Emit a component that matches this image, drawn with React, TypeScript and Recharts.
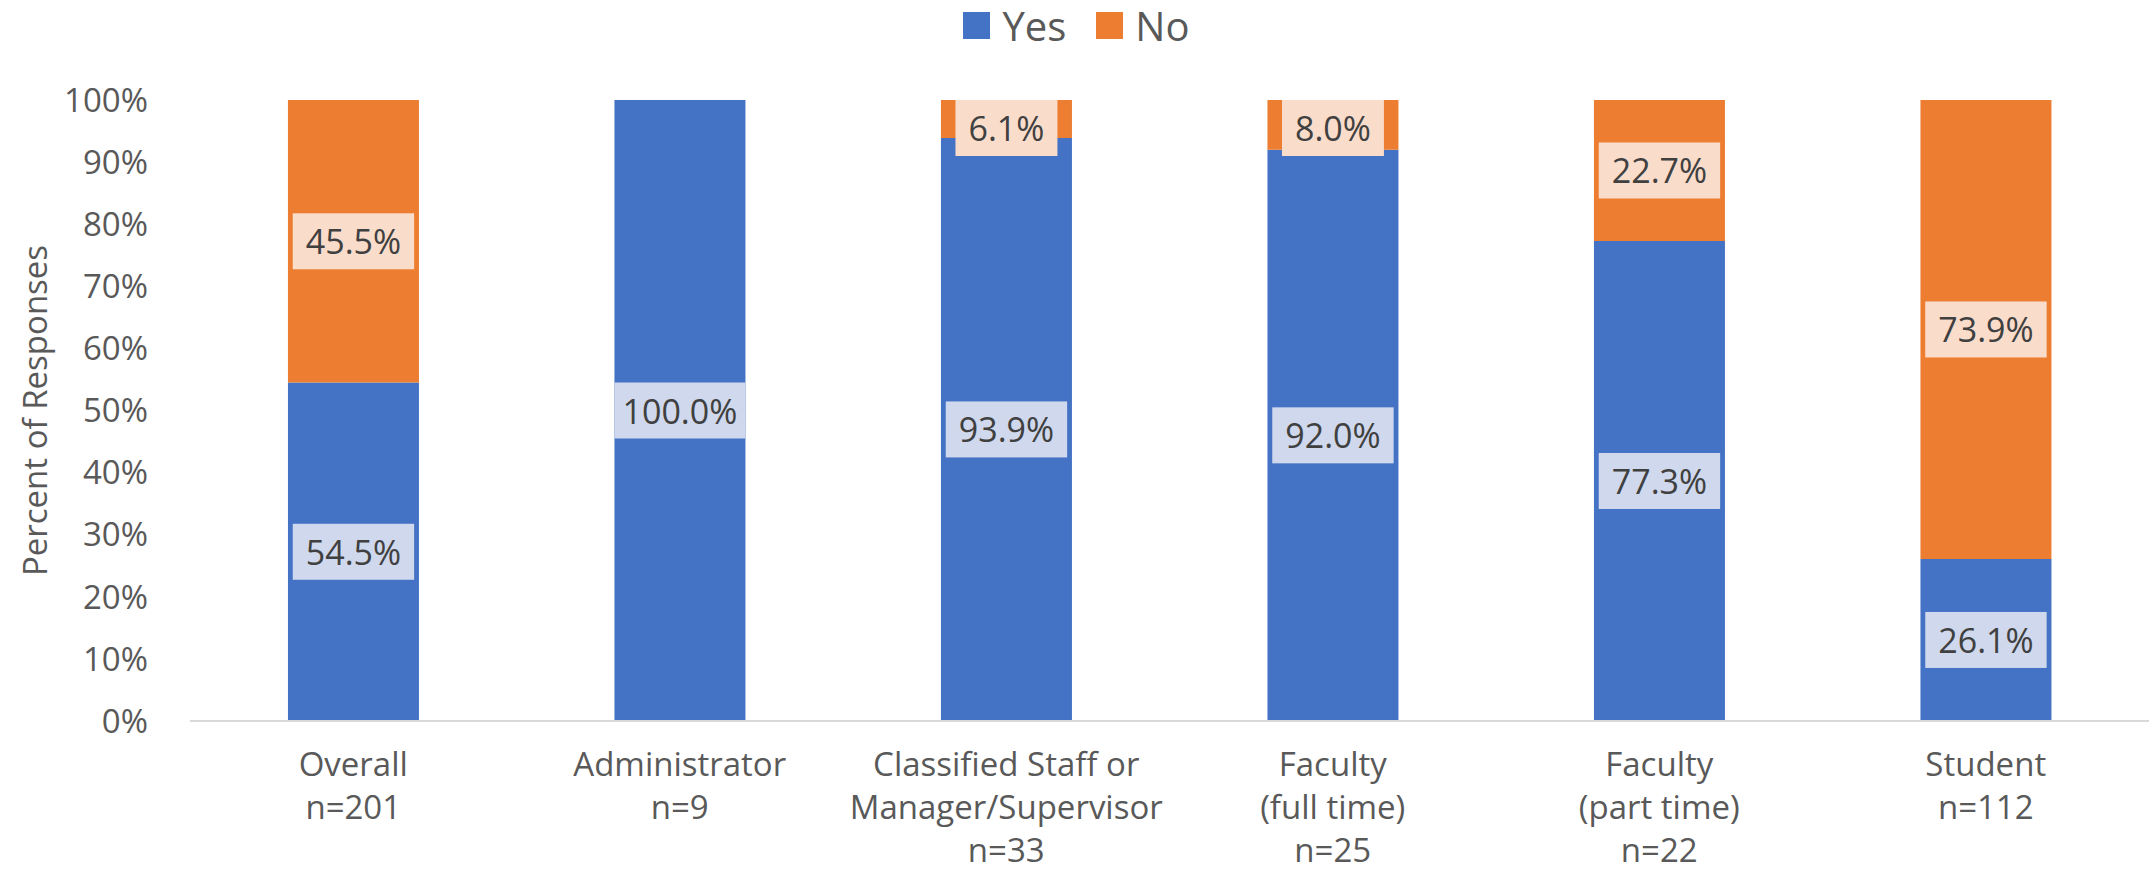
import React from "react";
import { BarChart, Bar, XAxis, YAxis, Legend, LabelList } from "recharts";

const categories = [
  "Overall\nn=201",
  "Administrator\nn=9",
  "Classified Staff or\nManager/Supervisor\nn=33",
  "Faculty\n(full time)\nn=25",
  "Faculty\n(part time)\nn=22",
  "Student\nn=112",
];
const yesValues = [54.5, 100.0, 93.9, 92.0, 77.3, 26.1];
const noValues = [45.5, 0, 6.1, 8.0, 22.7, 73.9];
const yTicks = [0, 10, 20, 30, 40, 50, 60, 70, 80, 90, 100];

const BLUE = "#4472C4";
const ORANGE = "#ED7D31";
const AXIS_TEXT = "#595959";
const LABEL_TEXT = "#404040";
const FONT = "'Open Sans', sans-serif";
const PLOT_TOP = 100;
const LEGEND_H = 50;

const data = categories.map((name, i) => ({
  name,
  yes: yesValues[i],
  no: noValues[i],
}));

// rough Open Sans widths, good enough to size the label boxes
function textWidth(s: string, size: number) {
  let w = 0;
  for (const ch of s) {
    if (ch === ".") w += 0.27;
    else if (ch === "%") w += 0.82;
    else w += 0.572;
  }
  return w * size;
}

function makeLabel(boxFill: string) {
  return (props: any) => {
    const { x, y, width, height, value } = props;
    if (!value) return null;
    const text = Number(value).toFixed(1) + "%";
    const cx = Number(x) + Number(width) / 2;
    const cy = Number(y) + Number(height) / 2;
    const bw = Math.min(textWidth(text, 34) + 26, Number(width));
    const bh = 56;
    const by = Math.max(PLOT_TOP, cy - bh / 2);
    return (
      <g>
        <rect x={cx - bw / 2} y={by} width={bw} height={bh} fill={boxFill} />
        <text
          x={cx}
          y={by + bh / 2}
          textAnchor="middle"
          dominantBaseline="central"
          fontSize={34}
          fill={LABEL_TEXT}
          fontFamily={FONT}
        >
          {text}
        </text>
      </g>
    );
  };
}

const XTick = (props: any) => {
  const { x, y, payload } = props;
  const lines = String(payload.value).split("\n");
  return (
    <text x={x} y={y} textAnchor="middle" fontSize={33} fill={AXIS_TEXT} fontFamily={FONT}>
      {lines.map((l, i) => (
        <tspan key={i} x={x} dy={i === 0 ? 55 : 43}>
          {l}
        </tspan>
      ))}
    </text>
  );
};

const LegendContent = () => (
  <div
    style={{
      display: "flex",
      justifyContent: "center",
      alignItems: "center",
      fontFamily: FONT,
      fontSize: 40,
      color: AXIS_TEXT,
      height: LEGEND_H,
    }}
  >
    {[
      { label: "Yes", color: BLUE },
      { label: "No", color: ORANGE },
    ].map((item) => (
      <div key={item.label} style={{ display: "flex", alignItems: "center", margin: "0 15px" }}>
        <span style={{ width: 27, height: 27, background: item.color, marginRight: 12, display: "inline-block" }} />
        <span>{item.label}</span>
      </div>
    ))}
  </div>
);

export default function App() {
  return (
    <div style={{ position: "absolute", left: 0, top: 0, background: "#fff" }}>
      <BarChart
        width={2153}
        height={878}
        data={data}
        barCategoryGap="30%"
        margin={{ top: PLOT_TOP - LEGEND_H, right: 4, bottom: 0, left: 0 }}
        style={{ fontFamily: FONT }}
      >
        <Legend
          verticalAlign="top"
          align="center"
          height={LEGEND_H}
          content={<LegendContent />}
          wrapperStyle={{ top: 0, left: 0, width: 2153 }}
        />
        <XAxis
          dataKey="name"
          height={157}
          interval={0}
          tickSize={0}
          tickMargin={0}
          axisLine={{ stroke: "#D9D9D9", strokeWidth: 2 }}
          tickLine={false}
          tick={<XTick />}
        />
        <YAxis
          width={190}
          domain={[0, 100]}
          ticks={yTicks}
          interval={0}
          axisLine={false}
          tickLine={false}
          tickSize={0}
          tickMargin={42}
          tickFormatter={(v: number) => `${v}%`}
          tick={{ fill: AXIS_TEXT, fontSize: 33, fontFamily: FONT }}
          label={{
            content: (p: any) => {
              const vb = p.viewBox || { y: PLOT_TOP, height: 621 };
              const cy = vb.y + vb.height / 2;
              return (
                <text
                  x={34}
                  y={cy}
                  transform={`rotate(-90, 34, ${cy})`}
                  textAnchor="middle"
                  dominantBaseline="central"
                  fontSize={33}
                  fill={AXIS_TEXT}
                  fontFamily={FONT}
                >
                  Percent of Responses
                </text>
              );
            },
          }}
        />
        <Bar dataKey="yes" name="Yes" stackId="a" fill={BLUE} isAnimationActive={false}>
          <LabelList dataKey="yes" content={makeLabel("#CFD8EC")} />
        </Bar>
        <Bar dataKey="no" name="No" stackId="a" fill={ORANGE} isAnimationActive={false}>
          <LabelList dataKey="no" content={makeLabel("#FADCCB")} />
        </Bar>
      </BarChart>
    </div>
  );
}
